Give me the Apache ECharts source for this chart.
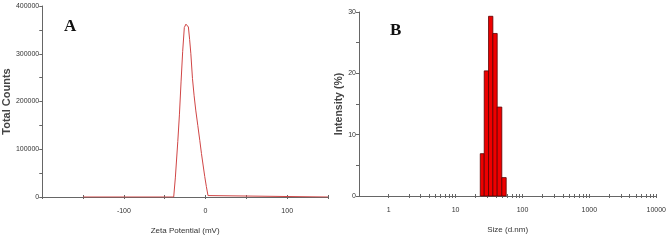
<!DOCTYPE html>
<html>
<head>
<meta charset="utf-8">
<script src="https://cdn.jsdelivr.net/npm/echarts@6/dist/echarts.min.js"></script>
<style>
  html, body { margin: 0; padding: 0; background: #fff; }
  #main { width: 669px; height: 240px; }
</style>
</head>
<body>
<div id="main"></div>
<script>
// A: zeta potential curve
var zetaMv = [-150, -39, -37, -34, -32, -30, -28, -26, -24, -22, -21, -19.5, -18, -16, -14, -12, -9.5, -7, -5, -3, -1, 1, 3, 4, 150];
var totalCounts = [0, 0, 40000, 116000, 172000, 241000, 305000, 355000, 362000, 361000, 356000, 330000, 300000, 248000, 212000, 182000, 150000, 118000, 91000, 67000, 43000, 22000, 3000, 0, 0];

// B: size distribution (bin edges in d.nm, intensity in %)
var sizeEdges = [23.4, 26.8, 31.1, 36.1, 41.9, 49.1, 57.1];
var intensity = [6.9, 20.4, 29.3, 26.5, 14.5, 3.0];

var sizeLabels = [1, 10, 100, 1000, 10000];
var sizeTicks = [];
for (var d = 1; d <= 1000; d *= 10) {
    for (var k = 1; k <= 9; k++) sizeTicks.push(k * d);
}
sizeTicks.push(10000);

var sans = '"Liberation Sans", Arial, sans-serif';
var txt = '#333';
var axisCol = '#666';

var lineData = zetaMv.map(function (x, i) { return [x, totalCounts[i]]; });
var barData = intensity.map(function (v, i) { return [sizeEdges[i], sizeEdges[i + 1], v]; });

var myChart = echarts.init(document.getElementById('main'));

// 刻度穿过坐标轴：再叠一根只画内侧刻度的轴
function innerTicks(base) {
    return Object.assign({}, base, {
        name: '', position: 'bottom',
        axisLine: { show: false, onZero: false },
        axisLabel: { show: false },
        axisTick: Object.assign({}, base.axisTick, { inside: true, length: 2 })
    });
}

var xA = {
    gridIndex: 0, type: 'value', min: -200, max: 150, interval: 50, position: 'bottom',
    name: 'Zeta Potential (mV)', nameLocation: 'middle', nameGap: 30,
    nameTextStyle: { fontFamily: sans, fontSize: 8, color: txt },
    axisLine: { onZero: false, lineStyle: { color: axisCol, width: 1 } },
    axisTick: { length: 2, lineStyle: { color: axisCol } },
    axisLabel: {
        fontFamily: sans, fontSize: 7, color: txt, margin: 11,
        formatter: function (v) { return (v % 100 === 0 && v > -200) ? String(v) : ''; }
    },
    splitLine: { show: false }
};

var xB = {
    gridIndex: 1, type: 'log', logBase: 10, min: 0.36, max: 10000, position: 'bottom',
    name: 'Size (d.nm)', nameLocation: 'middle', nameGap: 30,
    nameTextStyle: { fontFamily: sans, fontSize: 8, color: txt },
    axisLine: { onZero: false, lineStyle: { color: axisCol, width: 1 } },
    axisTick: { length: 2, lineStyle: { color: axisCol }, customValues: sizeTicks },
    axisLabel: {
        fontFamily: sans, fontSize: 7, color: txt, margin: 11,
        customValues: sizeLabels,
        formatter: function (v) { return String(v); }
    },
    splitLine: { show: false },
    minorTick: { show: false }
};

var option = {
    animation: false,
    backgroundColor: '#fff',
    grid: [
        { left: 42, top: 6, width: 286, height: 191, containLabel: false },
        { left: 359, top: 12, width: 299, height: 184, containLabel: false }
    ],
    xAxis: [xA, xB, innerTicks(xA), innerTicks(xB)],
    yAxis: [
        {
            gridIndex: 0, type: 'value', min: 0, max: 400000, interval: 50000,
            name: 'Total Counts', nameLocation: 'middle', nameGap: 30, nameRotate: 90,
            nameTextStyle: { fontFamily: sans, fontSize: 11, fontWeight: 'bold', color: '#444' },
            axisLine: { show: true, onZero: false, lineStyle: { color: axisCol, width: 1 } },
            axisTick: { show: true, length: 3, lineStyle: { color: axisCol } },
            axisLabel: {
                fontFamily: sans, fontSize: 7, color: txt, margin: 3,
                formatter: function (v) { return v % 100000 === 0 ? String(v) : ''; }
            },
            splitLine: { show: false }
        },
        {
            gridIndex: 1, type: 'value', min: 0, max: 30, interval: 5,
            name: 'Intensity (%)', nameLocation: 'middle', nameGap: 14, nameRotate: 90,
            nameTextStyle: { fontFamily: sans, fontSize: 10.5, fontWeight: 'bold', color: '#444' },
            axisLine: { show: true, onZero: false, lineStyle: { color: axisCol, width: 1 } },
            axisTick: { show: true, length: 3, lineStyle: { color: axisCol } },
            axisLabel: {
                fontFamily: sans, fontSize: 7, color: txt, margin: 3,
                formatter: function (v) { return v % 10 === 0 ? String(v) : ''; }
            },
            splitLine: { show: false }
        }
    ],
    series: [
        {
            type: 'line', xAxisIndex: 0, yAxisIndex: 0,
            data: lineData, showSymbol: false, symbol: 'none',
            lineStyle: { color: '#d04545', width: 1 }
        },
        {
            type: 'custom', xAxisIndex: 1, yAxisIndex: 1,
            data: barData,
            encode: { x: [0, 1], y: 2 },
            renderItem: function (params, api) {
                var p0 = api.coord([api.value(0), api.value(2)]);
                var p1 = api.coord([api.value(1), 0]);
                return {
                    type: 'rect',
                    shape: { x: p0[0], y: p0[1], width: p1[0] - p0[0], height: p1[1] - p0[1] },
                    style: { fill: '#ee0000', stroke: '#5a0000', lineWidth: 0.8 }
                };
            }
        }
    ],
    graphic: [
        { type: 'text', left: 64, top: 18, style: { text: 'A', font: 'bold 17px "Liberation Serif", "Times New Roman", serif', fill: '#111' } },
        { type: 'text', left: 390, top: 22, style: { text: 'B', font: 'bold 17px "Liberation Serif", "Times New Roman", serif', fill: '#111' } }
    ]
};

myChart.setOption(option);
</script>
</body>
</html>
